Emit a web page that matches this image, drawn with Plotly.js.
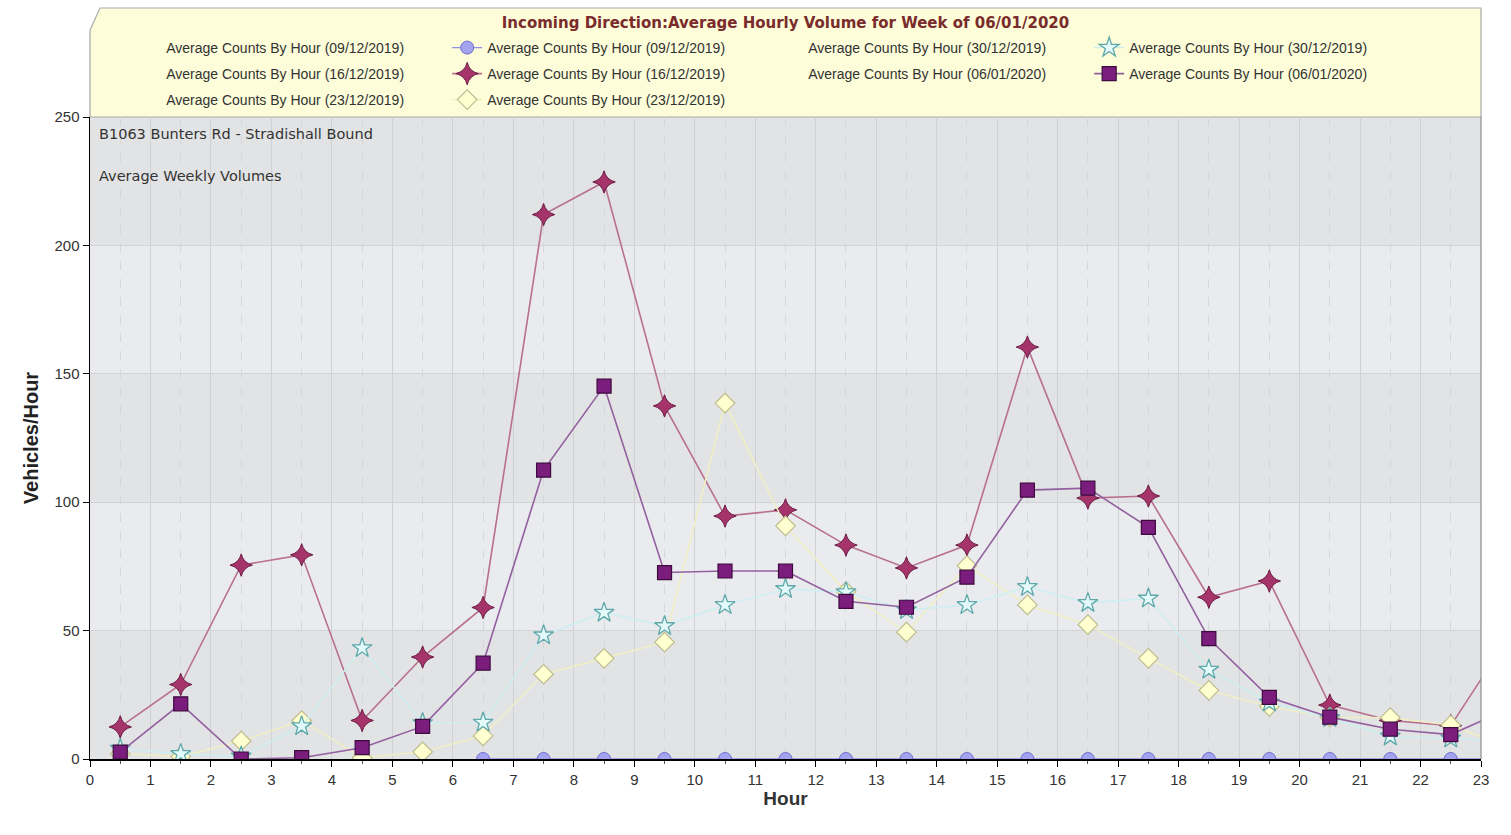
<!DOCTYPE html>
<html>
<head>
<meta charset="utf-8">
<script src="https://cdn.plot.ly/plotly-3.0.1.min.js"></script>
<style>html,body{margin:0;padding:0;background:#fff;}#chart{width:1511px;height:835px;}</style>
</head>
<body>
<div id="chart"></div>
<script>
const hours = [0.5,1.5,2.5,3.5,4.5,5.5,6.5,7.5,8.5,9.5,10.5,11.5,12.5,13.5,14.5,15.5,16.5,17.5,18.5,19.5,20.5,21.5,22.5,23.5];
const xTicks = [0,1,2,3,4,5,6,7,8,9,10,11,12,13,14,15,16,17,18,19,20,21,22,23];
const yTicks = [0,50,100,150,200,250];

const week0912 = [null,null,null,null,null,null,0,0,0,0,0,0,0,0,0,0,0,0,0,0,0,0,0,0];
const week1612 = [12.5,29,75.5,79.5,15,39.7,59,212,224.7,137.5,94.6,97,83.3,74.4,83.3,160.4,101.6,102.4,63,69.3,21,15,13,49];
const week2312 = [2,1,7,15,0.5,2.8,9,33,39.2,45.5,138.6,90.8,65.2,49.4,75.3,60,52.3,39.2,26.7,20.5,16.3,16.1,13.2,4];
const week3012 = [4,2,1,12.8,43.2,14,14.2,48.2,57,51.8,60,66.2,65,58,60,67,60.8,62.5,34.8,22,16,8.8,8,7];
const week0601 = [2.7,21.5,0,0.5,4.4,12.7,37.3,112.5,145.2,72.6,73.2,73.2,61.4,59.1,70.8,104.7,105.5,90.2,46.9,24,16.3,11.6,9.5,20];

const seriesNames = [
  'Average Counts By Hour (09/12/2019)',
  'Average Counts By Hour (16/12/2019)',
  'Average Counts By Hour (23/12/2019)',
  'Average Counts By Hour (30/12/2019)',
  'Average Counts By Hour (06/01/2020)'
];
const chartTitle = 'Incoming Direction:Average Hourly Volume for Week of 06/01/2020';
const note1 = 'B1063 Bunters Rd - Stradishall Bound';
const note2 = 'Average Weekly Volumes';

const legendOf = ['legend','legend2','legend3','legend','legend2'];
const rankBase = [1,1,1,3,3];

function dummy(i){
  return {x:[null], y:[null], type:'scatter', mode:'lines', name:seriesNames[i],
    line:{color:'rgba(0,0,0,0)', width:0}, legend:legendOf[i], legendrank:rankBase[i], hoverinfo:'skip'};
}
function real(i, ys, line, marker){
  return {x:hours, y:ys, type:'scatter', mode:'lines+markers', name:seriesNames[i],
    line:line, marker:marker, legend:legendOf[i], legendrank:rankBase[i]+1, connectgaps:false, cliponaxis:true};
}

const traces = [
  dummy(0), dummy(1), dummy(2), dummy(3), dummy(4),
  real(0, week0912, {color:'#8f8fe6', width:1.3}, {symbol:'circle', size:13, color:'#a3a3f0', line:{color:'#6f6fd0', width:1}}),
  real(1, week1612, {color:'#b8708f', width:1.6}, {symbol:'star-diamond', size:16, color:'#a4346a', line:{color:'#6b1c44', width:1}}),
  real(2, week2312, {color:'#f1efc2', width:1.5}, {symbol:'diamond', size:15, color:'#ffffcf', line:{color:'#bdbc8e', width:1.2}}),
  real(3, week3012, {color:'#cdeff1', width:1.5}, {symbol:'star', size:15, color:'#e4fafa', line:{color:'#5fa8aa', width:1.3}}),
  real(4, week0601, {color:'#92609f', width:1.6}, {symbol:'square', size:14, color:'#7b1d7d', line:{color:'#3e0b3f', width:1.2}})
];

const bandDark = '#e2e3e5';
const shapes = [];
for (let k = 0; k + 1 < yTicks.length; k += 2) {
  shapes.push({type:'rect', xref:'paper', yref:'y', x0:0, x1:1, y0:yTicks[k], y1:yTicks[k+1],
    fillcolor:bandDark, line:{width:0}, layer:'below'});
}
// yellow legend/title box with bevelled top-left corner
shapes.push({type:'path', xref:'paper', yref:'paper',
  path:'M 0 1 L 0 1.1355 L 0.0072 1.1698 L 1 1.1698 L 1 1 Z',
  fillcolor:'#fdfdd9', line:{color:'#a9a9a9', width:1.2}, layer:'below'});
// right border of plot area
shapes.push({type:'line', xref:'paper', yref:'paper', x0:1, x1:1, y0:0, y1:1, line:{color:'#8c8c8c', width:1.2}});

const legFont = {family:'"Liberation Sans", Arial, sans-serif', size:14, color:'#333333'};
function leg(y){
  return {orientation:'h', x:0.026, xanchor:'left', y:y, yanchor:'middle', bgcolor:'rgba(0,0,0,0)',
    borderwidth:0, font:legFont, entrywidth:276, entrywidthmode:'pixels', traceorder:'normal',
    itemsizing:'trace', itemclick:false, itemdoubleclick:false};
}

const layout = {
  width:1511, height:835,
  margin:{l:90, r:30, t:117, b:76, pad:0},
  paper_bgcolor:'#ffffff',
  plot_bgcolor:'#e9ebee',
  showlegend:true,
  title:{text:'<b>'+chartTitle+'</b>', font:{family:'"DejaVu Sans", sans-serif', size:15, color:'#7a2b2b'},
    x:0.5, xref:'paper', xanchor:'center', y:1-23/835, yref:'container', yanchor:'middle'},
  legend:leg(1.1075),
  legend2:leg(1.067),
  legend3:leg(1.0265),
  xaxis:{range:[0,23], tickvals:xTicks, ticktext:xTicks.map(String), ticks:'outside', ticklen:6, tickcolor:'#000',
    showline:true, linecolor:'#000', linewidth:1.5, zeroline:false,
    showgrid:true, gridcolor:'#cfd1d4', gridwidth:1,
    minor:{dtick:1, tick0:0.5, showgrid:true, gridcolor:'#d5d7da', griddash:'dash', gridwidth:1, ticks:'outside', ticklen:3, tickcolor:'#555'},
    tickfont:{family:'"Liberation Sans", Arial, sans-serif', size:15, color:'#333'},
    title:{text:'<b>Hour</b>', font:{family:'"Liberation Sans", Arial, sans-serif', size:19, color:'#333'}, standoff:5},
    fixedrange:true},
  yaxis:{range:[0,250], tickvals:yTicks, ticks:'outside', ticklen:6, tickcolor:'#000',
    showline:true, linecolor:'#000', linewidth:1.5, zeroline:false,
    showgrid:true, gridcolor:'#d3d4d6', gridwidth:1,
    tickfont:{family:'"Liberation Sans", Arial, sans-serif', size:15, color:'#333'},
    title:{text:'<b>Vehicles/Hour</b>', font:{family:'"Liberation Sans", Arial, sans-serif', size:20, color:'#222'}, standoff:10},
    fixedrange:true},
  shapes:shapes,
  annotations:[
    {text:note1, xref:'paper', yref:'paper', x:0.005, y:(759-134)/642, xanchor:'left', yanchor:'middle', showarrow:false,
      font:{family:'"DejaVu Sans", sans-serif', size:14.5, color:'#333'}},
    {text:note2, xref:'paper', yref:'paper', x:0.005, y:(759-176)/642, xanchor:'left', yanchor:'middle', showarrow:false,
      font:{family:'"DejaVu Sans", sans-serif', size:14.5, color:'#333'}}
  ]
};

Plotly.newPlot('chart', traces, layout, {displayModeBar:false, staticPlot:true});
</script>
</body>
</html>
